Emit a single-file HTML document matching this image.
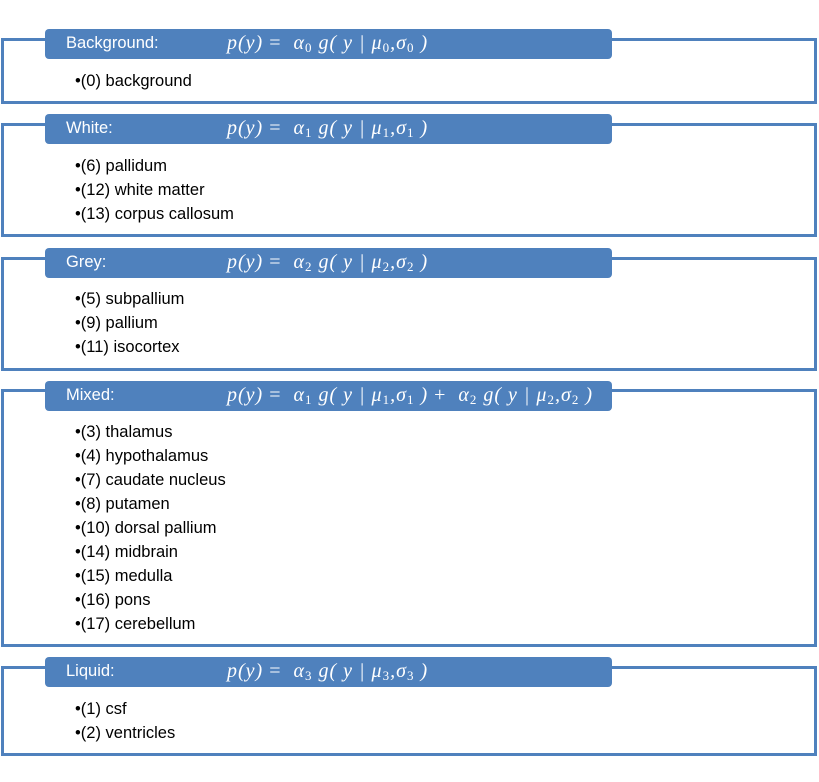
<!DOCTYPE html>
<html><head><meta charset="utf-8">
<style>
body{margin:0;width:819px;height:782px;background:#fff;position:relative;overflow:hidden;font-family:"Liberation Sans",sans-serif;}
.box{position:absolute;left:1px;border:3px solid #4f81bd;box-sizing:border-box;width:816px;}
.hdr{position:absolute;left:45px;width:567px;height:30px;background:#4f81bd;border-radius:4px;color:#fff;font-size:16.5px;}
.hdr .l{position:absolute;left:21px;top:5px;}
.hdr .m{position:absolute;left:182px;top:3px;font-family:"Liberation Serif",serif;font-style:italic;font-size:20px;letter-spacing:1px;white-space:pre;}
.hdr .m .u{font-style:normal;}
.hdr sub{font-size:13px;font-style:normal;vertical-align:-3px;}
.items{position:absolute;left:75px;font-size:16.5px;line-height:24px;color:#000;white-space:nowrap;}
</style></head><body>

<div class="box" style="top:38px;height:66px"></div>
<div class="hdr" style="top:29px"><span class="l">Background:</span><span class="m">p(y) <span class="u">=</span>  α<sub>0</sub> g( y | μ<sub>0</sub>,σ<sub>0</sub> )</span></div>
<div class="items" style="top:69px">•(0) background</div>

<div class="box" style="top:123px;height:114px"></div>
<div class="hdr" style="top:114px"><span class="l">White:</span><span class="m">p(y) <span class="u">=</span>  α<sub>1</sub> g( y | μ<sub>1</sub>,σ<sub>1</sub> )</span></div>
<div class="items" style="top:154px">•(6) pallidum<br>•(12) white matter<br>•(13) corpus callosum</div>

<div class="box" style="top:257px;height:114px"></div>
<div class="hdr" style="top:248px"><span class="l">Grey:</span><span class="m">p(y) <span class="u">=</span>  α<sub>2</sub> g( y | μ<sub>2</sub>,σ<sub>2</sub> )</span></div>
<div class="items" style="top:287px">•(5) subpallium<br>•(9) pallium<br>•(11) isocortex</div>

<div class="box" style="top:389px;height:258px"></div>
<div class="hdr" style="top:381px"><span class="l">Mixed:</span><span class="m">p(y) <span class="u">=</span>  α<sub>1</sub> g( y | μ<sub>1</sub>,σ<sub>1</sub> ) <span class="u">+</span>  α<sub>2</sub> g( y | μ<sub>2</sub>,σ<sub>2</sub> )</span></div>
<div class="items" style="top:420px">•(3) thalamus<br>•(4) hypothalamus<br>•(7) caudate nucleus<br>•(8) putamen<br>•(10) dorsal pallium<br>•(14) midbrain<br>•(15) medulla<br>•(16) pons<br>•(17) cerebellum</div>

<div class="box" style="top:666px;height:90px"></div>
<div class="hdr" style="top:657px"><span class="l">Liquid:</span><span class="m">p(y) <span class="u">=</span>  α<sub>3</sub> g( y | μ<sub>3</sub>,σ<sub>3</sub> )</span></div>
<div class="items" style="top:697px">•(1) csf<br>•(2) ventricles</div>

</body></html>
